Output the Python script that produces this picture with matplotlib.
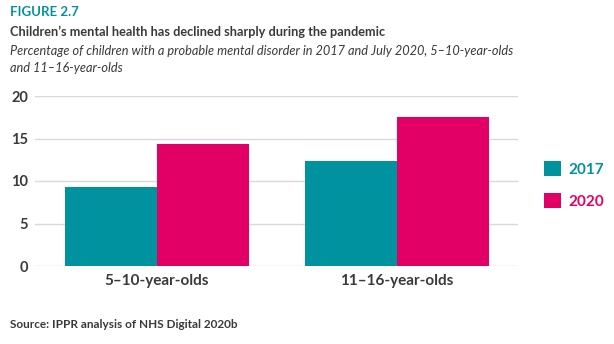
import matplotlib
matplotlib.use("Agg")
import matplotlib.pyplot as plt
import numpy as np

categories = ["5\u201310-year-olds", "11\u201316-year-olds"]
series_names = ["2017", "2020"]
values_2017 = [9.3, 12.4]
values_2020 = [14.4, 17.5]
yticks = [0, 5, 10, 15, 20]

teal = "#00929F"
pink = "#E30066"
txt = "#3a3a3a"
grid = "#d9d9d9"

plt.rcParams['font.family'] = ['Lato', 'DejaVu Sans']

fig = plt.figure(figsize=(6.14, 3.44), dpi=100)
W, H = 614, 344
ax = fig.add_axes([35 / W, 1 - 266 / H, (518 - 35) / W, (266 - 96) / H])

x = np.arange(len(categories))
bw = 0.383
ax.bar(x - bw / 2, values_2017, bw, color=teal, label=series_names[0], zorder=3)
ax.bar(x + bw / 2, values_2020, bw, color=pink, label=series_names[1], zorder=3)

ax.set_xlim(-0.508, 1.504)
ax.set_ylim(0, 20)
ax.set_yticks(yticks)
ax.set_yticklabels([str(t) for t in yticks], fontsize=10.5, color=txt, fontweight='bold')
ax.set_xticks(x)
ax.set_xticklabels(categories, fontsize=11, color=txt, fontweight='bold')
ax.tick_params(axis='both', length=0)
ax.tick_params(axis='y', pad=5)
ax.tick_params(axis='x', pad=6)
ax.grid(axis='y', color=grid, linewidth=1, zorder=0)
for s in ax.spines.values():
    s.set_visible(False)

leg = ax.legend(loc='upper left', bbox_to_anchor=(530 / W, 1 - 147 / H), bbox_transform=fig.transFigure,
                frameon=False, handlelength=1.15, handleheight=1.15,
                handletextpad=0.45, labelspacing=1.1, prop={'weight': 'bold', 'size': 11})
for t, c in zip(leg.get_texts(), [teal, pink]):
    t.set_color(c)

fig.text(10 / W, 1 - 12 / H, "FIGURE 2.7", color=teal, fontsize=9.5, fontweight='bold', va='center')
fig.text(10 / W, 1 - 32 / H, "Children\u2019s mental health has declined sharply during the pandemic",
         color=txt, fontsize=9.2, fontweight='bold', va='center')
fig.text(10 / W, 1 - 51 / H,
         "Percentage of children with a probable mental disorder in 2017 and July 2020, 5\u201310-year-olds",
         color=txt, fontsize=9.2, style='italic', va='center')
fig.text(10 / W, 1 - 68 / H, "and 11\u201316-year-olds", color=txt, fontsize=9.2, style='italic', va='center')
fig.text(10 / W, 1 - 324 / H, "Source: IPPR analysis of NHS Digital 2020b", color=txt, fontsize=8.5,
         fontweight='bold', va='center')

fig.savefig("out.png", dpi=100)
